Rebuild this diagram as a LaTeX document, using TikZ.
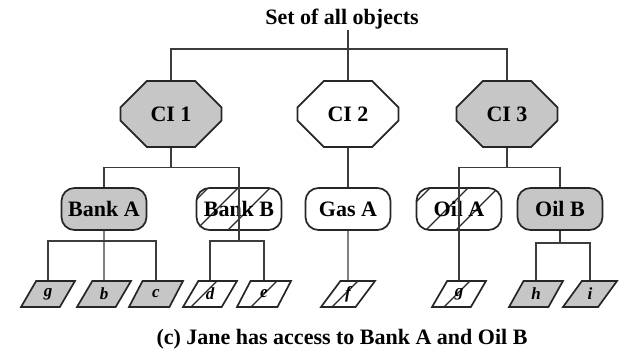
\documentclass[tikz,border=0pt]{standalone}
\usepackage{fontspec}
\setmainfont{Liberation Serif}
\usetikzlibrary{shapes.misc,shapes.geometric,calc}

\definecolor{boxgray}{RGB}{198,198,198}
\definecolor{ink}{RGB}{38,38,38}
\definecolor{wire}{RGB}{60,60,60}

\tikzset{
  labelfont/.style={font=\fontsize{22}{25}\selectfont\bfseries},
  base/.style={draw=ink, line width=1.7pt, inner sep=0pt, labelfont},
  category/.style={base, chamfered rectangle, chamfered rectangle corners=all,
    chamfered rectangle xsep=21pt, chamfered rectangle ysep=19pt,
    minimum width=101pt, minimum height=66pt},
  company/.style={base, rectangle, rounded corners=13pt,
    minimum width=85pt, minimum height=42pt},
  dataset/.style={draw=ink, line width=1.7pt, inner sep=0pt,
    trapezium, trapezium left angle=65, trapezium right angle=115,
    trapezium stretches=true, minimum width=54pt, minimum height=26pt,
    font=\fontsize{17}{19}\selectfont\bfseries\itshape},
  held/.style={fill=boxgray},
  crossed/.style={path picture={
    \foreach \d in {#1}
      \draw[ink, line width=1.3pt]
        ($(path picture bounding box.center)+(\d-30,30)$) -- ++(60,-60);}},
  wire/.style={draw=wire, line width=1.3pt},
}

\begin{document}
\begin{tikzpicture}[x=1pt, y=-1pt]
  \useasboundingbox (0,0) rectangle (619,352);

  % root and conflict-of-interest classes
  \node[labelfont, anchor=base, inner sep=0pt] (title) at (342,25) {Set of all objects};
  \node[category, held] (ci1) at (171,114) {CI 1};
  \node[category]       (ci2) at (348,114) {CI 2};
  \node[category, held] (ci3) at (507,114) {CI 3};

  % company datasets
  \node[company, held]              (bankA) at (104,209) {Bank A};
  \node[company, crossed={-52,-22,10}] (bankB) at (239,209) {Bank B};
  \node[company]                    (gasA)  at (348,209) {Gas A};
  \node[company, crossed={-50,-12,18}] (oilA)  at (459,209) {Oil A};
  \node[company, held]              (oilB)  at (560,209) {Oil B};

  % objects
  \node[dataset, held]          (o1) at (48,294)  {g};
  \node[dataset, held]          (o2) at (104,294) {b};
  \node[dataset, held]          (o3) at (156,294) {c};
  \node[dataset, crossed={-6}]  (o4) at (210,294) {d};
  \node[dataset, crossed={0}]   (o5) at (264,294) {e};
  \node[dataset, crossed={-3}]  (o6) at (348,294) {f};
  \node[dataset, crossed={-2}]  (o7) at (459,294) {g};
  \node[dataset, held]          (o8) at (536,294) {h};
  \node[dataset, held]          (o9) at (590,294) {i};

  % caption
  \node[labelfont, anchor=base, inner sep=0pt] (caption) at (342,345)
    {(c) Jane has access to Bank A and Oil B};

  % tree connectors
  \draw[wire] (title.south -| ci2.north) -- (ci2.north);
  \draw[wire] (ci1.north) -- ++(0,-31) -| (ci3.north);

  \draw[wire] (ci1.south) -- ++(0,20) coordinate (j1);
  \draw[wire] (bankA.north) |- (j1) -| (bankB |- 0,241);
  \draw[wire] (bankA.south) -- (o2.north);
  \draw[wire] (o1.north) |- (bankA |- 0,241) -| (o3.north);
  \draw[wire] (o4.north) |- (bankB |- 0,241) -| (o5.north);

  \draw[wire] (ci2.south) -- (gasA.north);
  \draw[wire] (gasA.south) -- (o6.north);

  \draw[wire] (ci3.south) -- ++(0,20) coordinate (j3);
  \draw[wire] (oilB.north) |- (j3) -| (o7.north);
  \draw[wire] (oilB.south) -- (oilB |- 0,243);
  \draw[wire] (o8.north) |- (oilB |- 0,243) -| (o9.north);
\end{tikzpicture}
\end{document}
